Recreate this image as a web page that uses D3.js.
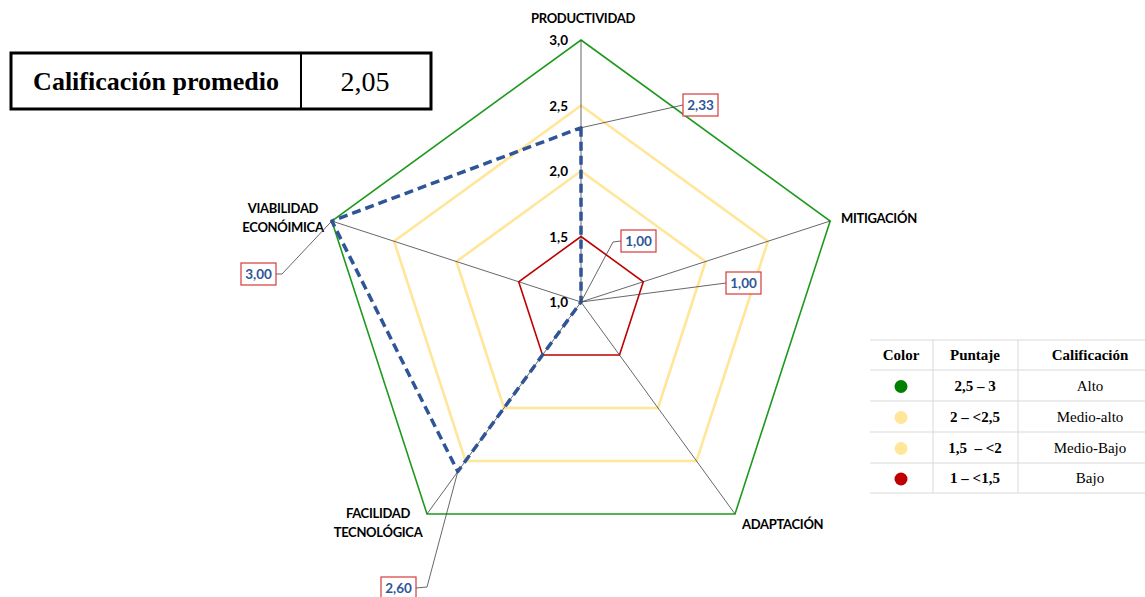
<!DOCTYPE html>
<html>
<head>
<meta charset="utf-8">
<script src="https://cdn.jsdelivr.net/npm/d3@7"></script>
<style>
  html, body { margin: 0; padding: 0; background: #fff; }
  svg { display: block; }
  text { white-space: pre; }
</style>
</head>
<body>
<svg id="chart" width="1145" height="597"></svg>
<script>
// Dimensiones evaluadas y puntajes
const categories = ["PRODUCTIVIDAD", "MITIGACIÓN", "ADAPTACIÓN", "FACILIDAD\nTECNOLÓGICA", "VIABILIDAD\nECONÓIMICA"];
const scores = [2.33, 1.00, 1.00, 2.60, 3.00];
const scoreLabels = ["2,33", "1,00", "1,00", "2,60", "3,00"];

// Anillos de referencia del radar
const ringLevels = [1.5, 2.0, 2.5, 3.0];
const ringColors = ["#c00000", "#ffe699", "#ffe699", "#1e9a1e"];
const tickValues = [1.0, 1.5, 2.0, 2.5, 3.0];
const tickLabels = ["1,0", "1,5", "2,0", "2,5", "3,0"];

// Tabla de calificación
const legendHeader = ["Color", "Puntaje", "Calificación"];
const legendColors = ["#008000", "#ffe699", "#ffe699", "#c00000"];
const legendRanges = ["2,5 – 3", "2 – <2,5", "1,5  – <2", "1 – <1,5"];
const legendNames = ["Alto", "Medio-alto", "Medio-Bajo", "Bajo"];

const averageTitle = "Calificación promedio";
const averageValue = "2,05";

const svg = d3.select("#chart");
const cx = 581, cy = 302, R = 262;
const r = d3.scaleLinear().domain([1, 3]).range([0, R]);
const angle = d3.scaleLinear().domain([0, categories.length]).range([0, 2 * Math.PI]);
const pt = (i, v) => {
  const a = angle(i), rr = r(v);
  return [cx + Math.sin(a) * rr, cy - Math.cos(a) * rr];
};

const g = svg.append("g");

// Anillos poligonales
const radial = d3.lineRadial().angle((d, i) => angle(i)).radius(d => r(d)).curve(d3.curveLinearClosed);
ringLevels.forEach((lv, k) => {
  g.append("path")
    .attr("transform", `translate(${cx},${cy})`)
    .attr("d", radial(categories.map(() => lv)))
    .attr("fill", "none")
    .attr("stroke", ringColors[k])
    .attr("stroke-width", ringColors[k] === "#ffe699" ? 2.6 : 1.6)
    .attr("stroke-linejoin", "miter");
});

// Ejes radiales
categories.forEach((c, i) => {
  const [x, y] = pt(i, 3);
  g.append("line").attr("x1", cx).attr("y1", cy).attr("x2", x).attr("y2", y)
    .attr("stroke", "#404040").attr("stroke-width", 0.8);
});

// Etiquetas del eje
const tickFont = "Lato, 'Open Sans', sans-serif";
tickValues.forEach((t, i) => {
  g.append("text")
    .attr("x", cx - 13).attr("y", cy - r(t) + 5)
    .attr("text-anchor", "end")
    .attr("font-family", tickFont).attr("font-weight", 700).attr("font-size", 13.5)
    .attr("fill", "#000").text(tickLabels[i]);
});

// Serie de puntajes (línea discontinua)
g.append("path")
  .attr("transform", `translate(${cx},${cy})`)
  .attr("d", radial(scores))
  .attr("fill", "none")
  .attr("stroke", "#2f5597")
  .attr("stroke-width", 3.5)
  .attr("stroke-dasharray", "9,5")
  .attr("stroke-linejoin", "round");

// Nombres de las dimensiones
const catPos = [
  { x: 583, y: 23, anchor: "middle" },
  { x: 841, y: 223, anchor: "start" },
  { x: 742, y: 529, anchor: "start" },
  { x: 378, y: 518, anchor: "middle" },
  { x: 283, y: 213, anchor: "middle" }
];
categories.forEach((c, i) => {
  const lines = c.split("\n");
  const t = g.append("text")
    .attr("x", catPos[i].x).attr("y", catPos[i].y)
    .attr("text-anchor", catPos[i].anchor)
    .attr("font-family", tickFont).attr("font-weight", 700).attr("font-size", 13)
    .attr("letter-spacing", -0.3)
    .attr("fill", "#000");
  lines.forEach((ln, k) => {
    t.append("tspan").attr("x", catPos[i].x).attr("dy", k === 0 ? 0 : 19).text(ln);
  });
});

// Etiquetas de valor con líneas guía
const callouts = [
  { box: [683, 94], elbow: null },
  { box: [621, 230], elbow: [613, 242] },
  { box: [726, 272], elbow: null },
  { box: [381, 577], elbow: [427, 587], right: true },
  { box: [241, 263], elbow: [282, 274], right: true }
];
const bw = 35, bh = 22;
scores.forEach((v, i) => {
  const c = callouts[i];
  const [px, py] = pt(i, v);
  const bx = c.box[0], by = c.box[1];
  const attachX = c.right ? bx + bw : bx;
  const attachY = by + bh / 2;
  const pts = [[px, py]];
  if (c.elbow) pts.push(c.elbow);
  pts.push([attachX, attachY]);
  g.append("path").attr("d", d3.line()(pts))
    .attr("fill", "none").attr("stroke", "#404040").attr("stroke-width", 0.8);
  g.append("rect").attr("x", bx).attr("y", by).attr("width", bw).attr("height", bh)
    .attr("fill", "#fff").attr("stroke", "#d63a3a").attr("stroke-width", 1.2);
  g.append("text").attr("x", bx + bw / 2).attr("y", by + bh / 2 + 5)
    .attr("text-anchor", "middle")
    .attr("font-family", tickFont).attr("font-weight", 700).attr("font-size", 13.5)
    .attr("fill", "#2f5597").text(scoreLabels[i]);
});

// Recuadro de calificación promedio
const box = svg.append("g");
box.append("rect").attr("x", 11).attr("y", 53).attr("width", 420).attr("height", 56)
  .attr("fill", "#fff").attr("stroke", "#000").attr("stroke-width", 3);
box.append("line").attr("x1", 301).attr("x2", 301).attr("y1", 53).attr("y2", 109)
  .attr("stroke", "#000").attr("stroke-width", 2);
box.append("text").attr("x", 156).attr("y", 90).attr("text-anchor", "middle")
  .attr("font-family", "'Liberation Serif', 'Times New Roman', serif")
  .attr("font-weight", 700).attr("font-size", 26).text(averageTitle);
box.append("text").attr("x", 365).attr("y", 91).attr("text-anchor", "middle")
  .attr("font-family", "'Liberation Serif', 'Times New Roman', serif")
  .attr("font-size", 28).text(averageValue);

// Tabla de rangos
const tbl = svg.append("g");
const tx0 = 870, tx1 = 1145;
const colX = [870, 933, 1018, 1145];
const rowY = [340, 370, 401, 432, 463, 493];
const serif = "'Liberation Serif', 'Times New Roman', serif";
rowY.forEach(y => {
  tbl.append("line").attr("x1", tx0).attr("x2", tx1).attr("y1", y).attr("y2", y)
    .attr("stroke", "#d9d9d9").attr("stroke-width", 1);
});
[colX[1], colX[2]].forEach(x => {
  tbl.append("line").attr("x1", x).attr("x2", x).attr("y1", rowY[0]).attr("y2", rowY[5])
    .attr("stroke", "#d9d9d9").attr("stroke-width", 1);
});
const colCenter = [901, 975, 1090];
legendHeader.forEach((h, j) => {
  tbl.append("text").attr("x", colCenter[j]).attr("y", (rowY[0] + rowY[1]) / 2 + 5)
    .attr("text-anchor", "middle").attr("font-family", serif).attr("font-weight", 700)
    .attr("font-size", 15).text(h);
});
legendRanges.forEach((rg, k) => {
  const yc = (rowY[k + 1] + rowY[k + 2]) / 2;
  tbl.append("circle").attr("cx", colCenter[0]).attr("cy", yc + 1).attr("r", 6.5)
    .attr("fill", legendColors[k]);
  tbl.append("text").attr("x", colCenter[1]).attr("y", yc + 5)
    .attr("text-anchor", "middle").attr("font-family", serif).attr("font-weight", 700)
    .attr("font-size", 15).text(rg);
  tbl.append("text").attr("x", colCenter[2]).attr("y", yc + 5)
    .attr("text-anchor", "middle").attr("font-family", serif)
    .attr("font-size", 15).text(legendNames[k]);
});
</script>
</body>
</html>
